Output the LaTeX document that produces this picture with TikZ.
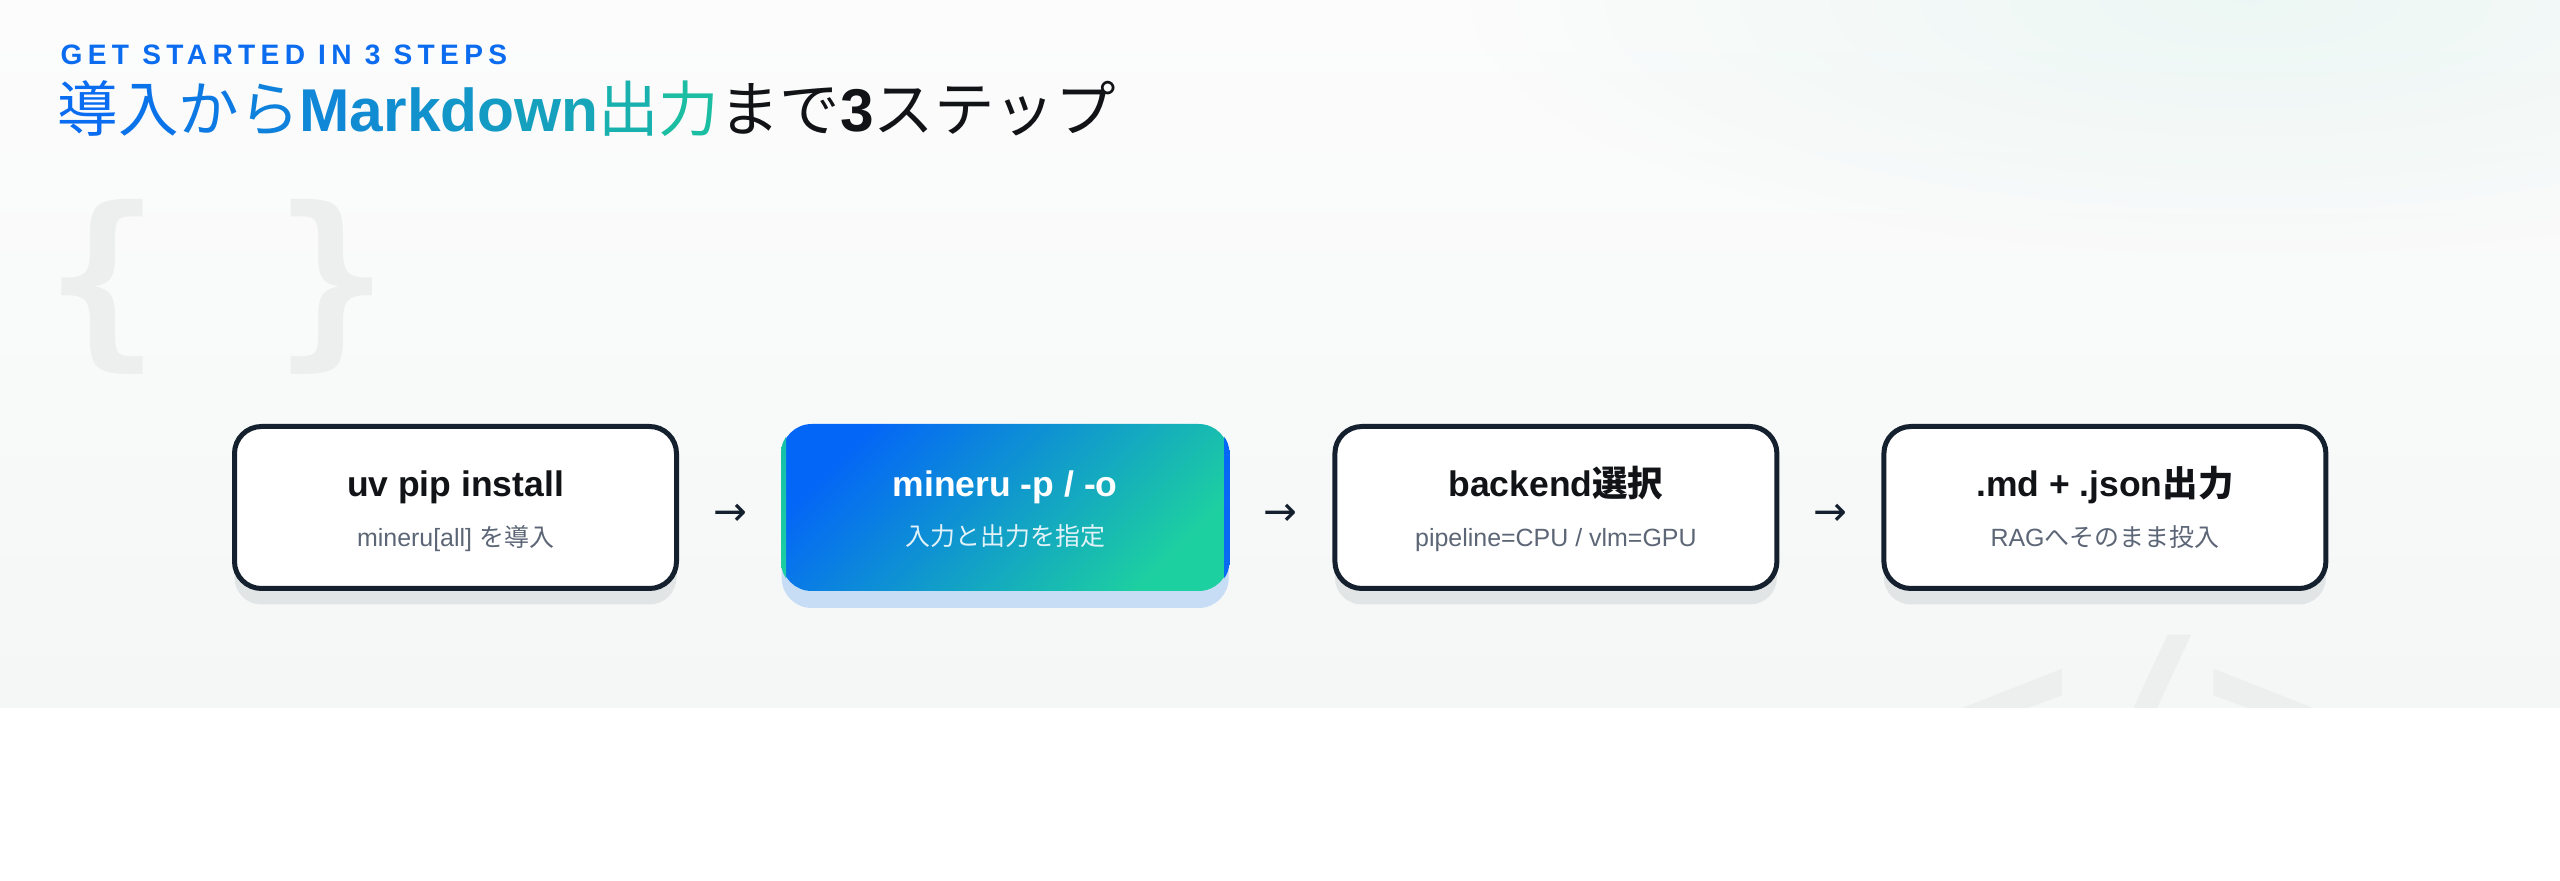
\documentclass[tikz,border=0pt]{standalone}
\usepackage{fontspec}
\setmainfont{Liberation Sans}
\newfontfamily\jpfont{Noto Sans CJK JP}
\newfontfamily\trackfont[LetterSpace=19]{Liberation Sans}
\newfontfamily\monofont{DejaVu Sans Mono}
\newfontfamily\symfont{DejaVu Sans}
\usepackage{xcolor}
\usepackage{tikz}
\usetikzlibrary{calc,positioning,shadows,fadings}
\definecolor{bgtop}{RGB}{252,252,252}
\definecolor{bgbot}{RGB}{245,247,247}
\definecolor{glow}{RGB}{30,180,140}
\definecolor{wmgray}{RGB}{237,239,239}
\definecolor{brand}{RGB}{11,108,240}
\definecolor{ttlblue}{RGB}{10,108,240}
\definecolor{ttlteal}{RGB}{28,194,158}
\definecolor{ink}{RGB}{17,19,22}
\definecolor{rimdark}{RGB}{20,32,46}
\definecolor{subgray}{RGB}{92,102,118}
\definecolor{shadegray}{RGB}{225,229,229}
\definecolor{shadeblue}{RGB}{198,221,245}
\definecolor{gradA}{RGB}{4,102,247}
\definecolor{gradB}{RGB}{29,208,160}
\definecolor{rimteal}{RGB}{22,190,170}
\definecolor{subwhite}{RGB}{225,242,248}

\tikzfading[name=softglow, inner color=transparent!93, outer color=transparent!100]

\newcommand{\gch}[2]{{\color{ttlteal!#1!ttlblue}#2}}

\begin{document}
\begin{tikzpicture}[
      stepbox/.style={rounded corners=2.7mm, draw=rimdark, line width=0.5mm, fill=white,
        minimum width=4.42cm, minimum height=1.62cm, inner sep=0,
        general shadow={fill=shadegray, shadow yshift=-1.6mm}},
      stepboxhi/.style={rounded corners=3mm, minimum width=4.47cm, minimum height=1.67cm, inner sep=0,
        top color=gradA, bottom color=gradB, shading angle=45,
        general shadow={fill=shadeblue, shadow yshift=-1.7mm}},
      stephead/.style={anchor=base, inner sep=0, text=ink, font=\fontsize{10.1}{12}\selectfont\bfseries},
      steptail/.style={anchor=base, inner sep=0, text=subgray, font=\fontsize{7.1}{9}\selectfont},
      flowsign/.style={inner sep=0, text=rimdark, font=\symfont\fontsize{11.5}{13}\selectfont},
      watermark/.style={inner sep=0, text=wmgray}
    ]

    \useasboundingbox (0,0) rectangle (25.6,8.8);
    \fill[white] (0,0) rectangle (25.6,8.8);

    % -------- BACKGROUND --------
    \shade[top color=bgtop, bottom color=bgbot] (0,1.73) rectangle (25.6,8.8);
    \fill[glow, path fading=softglow] (22.5,8.8) ellipse (8 and 2.6);

    \begin{scope}
      \clip (0,1.73) rectangle (25.6,8.8);
      \node[watermark, font=\monofont\bfseries\fontsize{54}{60}\selectfont] (braces) at (2.17,5.93) {\{ \}};
      \node[watermark, anchor=base, font=\monofont\bfseries\fontsize{62.6}{70}\selectfont] (tag) at (21.38,0.85) {</>};
    \end{scope}

    % -------- HEADER --------
    \node[anchor=base west, inner sep=0, text=brand, font=\trackfont\bfseries\fontsize{8}{10}\selectfont] (kicker) at (0.60,8.15)
      {GET STARTED IN 3 STEPS};
    \node[anchor=base west, inner sep=0, text=ink, font=\fontsize{17.2}{20}\selectfont] (title) at (0.57,7.48)
      {{\jpfont\gch{0}{導}\gch{8}{入}\gch{16}{か}\gch{24}{ら}}%
       {\bfseries\gch{31}{M}\gch{36}{a}\gch{40}{r}\gch{44}{k}\gch{49}{d}\gch{55}{o}\gch{61}{w}\gch{67}{n}}%
       {\jpfont\gch{80}{出}\gch{95}{力}}%
       {\jpfont まで}{\bfseries 3}{\jpfont ステップ}};

    % -------- STEPS --------
    \node[stepbox] (s1) at (4.555,3.725) {};
    \node[stepboxhi, right=1.02cm of s1] (s2) {};
    \node[stepbox, right=1.03cm of s2] (s3) {};
    \node[stepbox, right=1.02cm of s3] (s4) {};

    % gradient rim of the highlighted step
    \begin{scope}
      \clip[rounded corners=3mm] (s2.south west) rectangle (s2.north east);
      \shade[top color=rimteal, bottom color=gradB] (s2.south west) rectangle ([xshift=0.5mm]s2.north west);
      \shade[top color=gradA, bottom color=ttlblue] ([xshift=-0.5mm]s2.south east) rectangle (s2.north east);
    \end{scope}

    \node[stephead] (s1h) at ($(s1.north)+(0,-0.73)$) {uv pip install};
    \node[steptail] (s1t) at ($(s1.north)+(0,-1.22)$) {mineru[all] {\jpfont を導入}};

    \node[stephead, text=white] (s2h) at ($(s2.north)+(0,-0.73)$) {mineru -p / -o};
    \node[steptail, text=subwhite] (s2t) at ($(s2.north)+(0,-1.22)$) {\jpfont 入力と出力を指定};

    \node[stephead] (s3h) at ($(s3.north)+(0,-0.73)$) {backend{\jpfont 選択}};
    \node[steptail] (s3t) at ($(s3.north)+(0,-1.22)$) {pipeline=CPU / vlm=GPU};

    \node[stephead] (s4h) at ($(s4.north)+(0,-0.73)$) {.md + .json{\jpfont 出力}};
    \node[steptail] (s4t) at ($(s4.north)+(0,-1.22)$) {RAG{\jpfont へそのまま投入}};

    % arrows between steps
    \node[flowsign] (a1) at ($(s1.east)!0.5!(s2.west)+(0,-0.075)$) {→};
    \node[flowsign] (a2) at ($(s2.east)!0.5!(s3.west)+(0,-0.075)$) {→};
    \node[flowsign] (a3) at ($(s3.east)!0.5!(s4.west)+(0,-0.075)$) {→};

\end{tikzpicture}
\end{document}
